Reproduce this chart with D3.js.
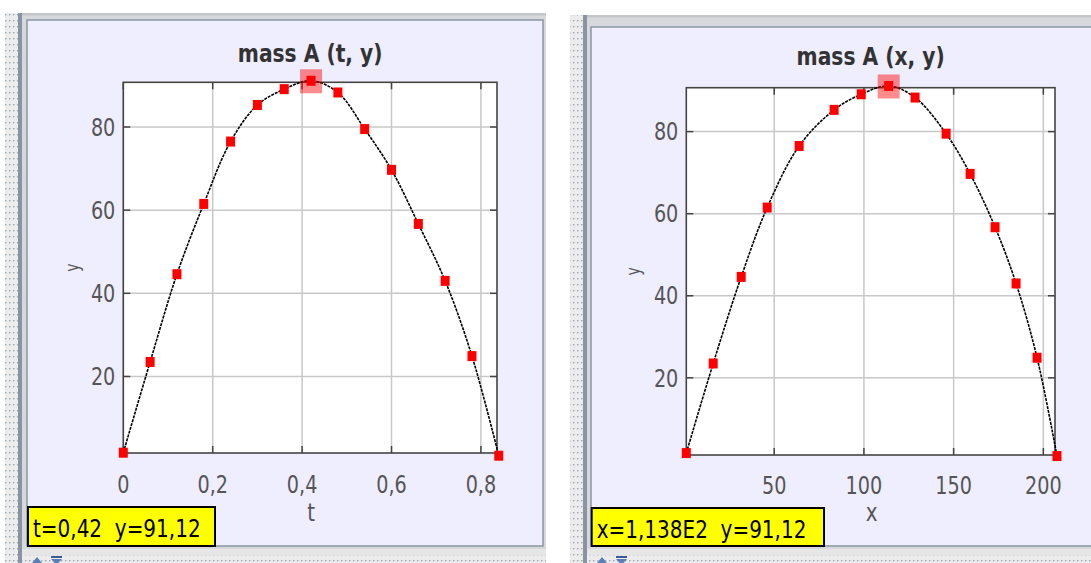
<!DOCTYPE html>
<html>
<head>
<meta charset="utf-8">
<script src="https://cdn.jsdelivr.net/npm/d3@7"></script>
<style>
  html, body { margin: 0; padding: 0; background: #ffffff; }
  svg { display: block; }
  text { white-space: pre; }
</style>
</head>
<body>
<svg id="chart" width="1091" height="563"></svg>
<script>
// ---------------- DATA ----------------
const tValues = [0, 0.06, 0.12, 0.18, 0.24, 0.30, 0.36, 0.42, 0.48, 0.54, 0.60, 0.66, 0.72, 0.78, 0.84];
const xValues = [1, 16, 31.6, 46.1, 63.9, 83.4, 98.5, 113.8, 128.5, 145.8, 159.2, 173.1, 184.8, 196.5, 207.6];
const yValues = [1.67, 23.5, 44.6, 61.5, 76.5, 85.3, 89.1, 91.12, 88.3, 79.5, 69.7, 56.7, 43.0, 24.9, 0.95];
const highlightIndex = 7;
const tTicks = [0, 0.2, 0.4, 0.6, 0.8];
const tTickLabels = ["0", "0,2", "0,4", "0,6", "0,8"];
const xTicks = [50, 100, 150, 200];
const xTickLabels = ["50", "100", "150", "200"];
const yTicks = [20, 40, 60, 80];
const yTickLabels = ["20", "40", "60", "80"];
const titles = ["mass A (t, y)", "mass A (x, y)"];
const xAxisTitles = ["t", "x"];
const statusTexts = ["t=0,42  y=91,12", "x=1,138E2  y=91,12"];

// ---------------- DRAW ----------------
const svg = d3.select("#chart");
const defs = svg.append("defs");
const pat = defs.append("pattern").attr("id", "dots").attr("patternUnits", "userSpaceOnUse")
  .attr("width", 4).attr("height", 6);
pat.append("rect").attr("width", 4).attr("height", 6).attr("fill", "#ececec");
pat.append("rect").attr("x", 1).attr("y", 2).attr("width", 1.4).attr("height", 1.4).attr("fill", "#9aa6b4");

const SX = 0.8;
function txt(g, x, y, s, o) {
  o = o || {};
  return g.append("text")
    .attr("transform", `translate(${x},${y}) scale(${o.sx || SX},1)`)
    .attr("text-anchor", o.anchor || "start")
    .attr("font-family", o.family || "'DejaVu Sans', sans-serif")
    .attr("font-size", o.size || 24)
    .attr("font-weight", o.weight || "normal")
    .attr("fill", o.fill || "#444")
    .attr("xml:space", "preserve")
    .text(s);
}

const panels = [
  { strip: [5, 18], frameL: 18, lav: [27, 20, 543, 546], top: 13,
    plot: [123.3, 497, 82.3, 453],
    xs: tValues, xDomain: [0, 0.836], yDomain: [1.6, 90.75],
    xt: tTicks, xtl: tTickLabels, titleY: 62, xtY: 493, yLabX: 74,
    box: [28, 507, 215, 546] },
  { strip: [570, 583], frameL: 583, lav: [591, 27, 1095, 546], top: 15,
    plot: [686.3, 1055, 87.7, 455],
    xs: xValues, xDomain: [1, 206.5], yDomain: [1.2, 90.7],
    xt: xTicks, xtl: xTickLabels, titleY: 65, xtY: 494, yLabX: 635,
    box: [591.7, 508, 824, 546] }
];

panels.forEach((p, i) => {
  const g = svg.append("g");
  // dotted strip
  g.append("rect").attr("x", p.strip[0]).attr("y", p.top).attr("width", p.strip[1] - p.strip[0])
    .attr("height", 563 - p.top).attr("fill", "url(#dots)");
  // frame
  const fr = p.lav[2] + 3;
  g.append("rect").attr("x", p.frameL).attr("y", p.top).attr("width", fr - p.frameL).attr("height", 549 - p.top)
    .attr("fill", "#d6d8dc");
  g.append("rect").attr("x", p.frameL).attr("y", p.top).attr("width", fr - p.frameL).attr("height", 2.5)
    .attr("fill", "#c4c6ca");
  g.append("rect").attr("x", p.frameL).attr("y", p.top).attr("width", 4).attr("height", 563 - p.top)
    .attr("fill", "#8894a2");
  g.append("rect").attr("x", p.frameL + 4).attr("y", 549).attr("width", fr - p.frameL - 4).attr("height", 6)
    .attr("fill", "#e6e6e6");
  g.append("rect").attr("x", p.frameL + 4).attr("y", 555).attr("width", fr - p.frameL - 4).attr("height", 8)
    .attr("fill", "url(#dots)");
  // lavender area
  g.append("rect").attr("x", p.lav[0]).attr("y", p.lav[1]).attr("width", p.lav[2] - p.lav[0])
    .attr("height", p.lav[3] - p.lav[1]).attr("fill", "#eeeeff").attr("stroke", "#8a96a6").attr("stroke-width", 1.5);
  // arrows
  const ax = p.frameL + 14;
  g.append("path").attr("d", `M${ax},563 L${ax + 5},557 L${ax + 10},563 Z`).attr("fill", "#5a7fb8");
  g.append("rect").attr("x", ax + 19).attr("y", 556).attr("width", 11).attr("height", 2).attr("fill", "#3a5a9a");
  g.append("path").attr("d", `M${ax + 19},559 L${ax + 30},559 L${ax + 24.5},565 Z`).attr("fill", "#5a7fb8");

  const [x0, x1, y0, y1] = p.plot;
  const xS = d3.scaleLinear().domain(p.xDomain).range([x0, x1]);
  const yS = d3.scaleLinear().domain(p.yDomain).range([y1, y0]);

  // plot background
  g.append("rect").attr("x", x0).attr("y", y0).attr("width", x1 - x0).attr("height", y1 - y0).attr("fill", "#ffffff");

  // grid
  const grid = g.append("g").attr("stroke", "#c8c8c8").attr("stroke-width", 1.5);
  p.xt.forEach(v => {
    const X = xS(v);
    grid.append("line").attr("x1", X).attr("x2", X).attr("y1", y0).attr("y2", y1);
  });
  yTicks.forEach(v => {
    const Y = yS(v);
    grid.append("line").attr("x1", x0).attr("x2", x1).attr("y1", Y).attr("y2", Y);
  });
  // inner ticks on all sides
  const tk = g.append("g").attr("stroke", "#444").attr("stroke-width", 1.5);
  p.xt.forEach(v => {
    const X = xS(v);
    tk.append("line").attr("x1", X).attr("x2", X).attr("y1", y1).attr("y2", y1 - 7);
    tk.append("line").attr("x1", X).attr("x2", X).attr("y1", y0).attr("y2", y0 + 7);
  });
  yTicks.forEach(v => {
    const Y = yS(v);
    tk.append("line").attr("x1", x0).attr("x2", x0 + 7).attr("y1", Y).attr("y2", Y);
    tk.append("line").attr("x1", x1).attr("x2", x1 - 7).attr("y1", Y).attr("y2", Y);
  });
  // border
  g.append("rect").attr("x", x0).attr("y", y0).attr("width", x1 - x0).attr("height", y1 - y0)
    .attr("fill", "none").attr("stroke", "#444").attr("stroke-width", 1.6);

  // tick labels
  p.xt.forEach((v, k) => txt(g, xS(v), p.xtY, p.xtl[k], { anchor: "middle", fill: "#555" }));
  yTicks.forEach((v, k) => txt(g, x0 - 8, yS(v) + 8.7, yTickLabels[k], { anchor: "end", fill: "#555" }));

  // title
  txt(g, (x0 + x1) / 2, p.titleY, titles[i], { anchor: "middle", size: 25, weight: "bold", fill: "#333", sx: 0.81 });
  // axis titles
  txt(g, (x0 + x1) / 2 + 1, 521, xAxisTitles[i], { anchor: "middle", size: 25, fill: "#555" });
  g.append("text")
    .attr("transform", `translate(${p.yLabX + 5},${(y0 + y1) / 2}) rotate(-90) scale(0.7,1)`)
    .attr("text-anchor", "middle").attr("font-family", "'DejaVu Sans', sans-serif")
    .attr("font-size", 20).attr("fill", "#555").text("y");

  // data line
  const pts = p.xs.map((xv, k) => [xv, yValues[k]]);
  const line = d3.line().x(d => xS(d[0])).y(d => yS(d[1])).curve(d3.curveCatmullRom.alpha(0.5));
  g.append("path").attr("d", line(pts)).attr("fill", "none").attr("stroke", "#000")
    .attr("stroke-width", 1.6).attr("stroke-dasharray", "3,1");
  // markers
  g.selectAll(null).data(pts).enter().append("rect")
    .attr("x", d => xS(d[0]) - 4.5).attr("y", d => yS(d[1]) - 5)
    .attr("width", 9).attr("height", 10).attr("fill", "#ff0000");
  // highlight
  const hp = pts[highlightIndex];
  g.append("rect").attr("x", xS(hp[0]) - 11).attr("y", yS(hp[1]) - 11.5)
    .attr("width", 22).attr("height", 24).attr("fill", "#ff0000").attr("opacity", 0.45);

  // status box
  const b = p.box;
  g.append("rect").attr("x", b[0]).attr("y", b[1]).attr("width", b[2] - b[0]).attr("height", b[3] - b[1])
    .attr("fill", "#ffff00").attr("stroke", "#000").attr("stroke-width", 2);
  txt(g, b[0] + 5, b[1] + 30, statusTexts[i], { size: 25, fill: "#000" });
});
</script>
</body>
</html>
